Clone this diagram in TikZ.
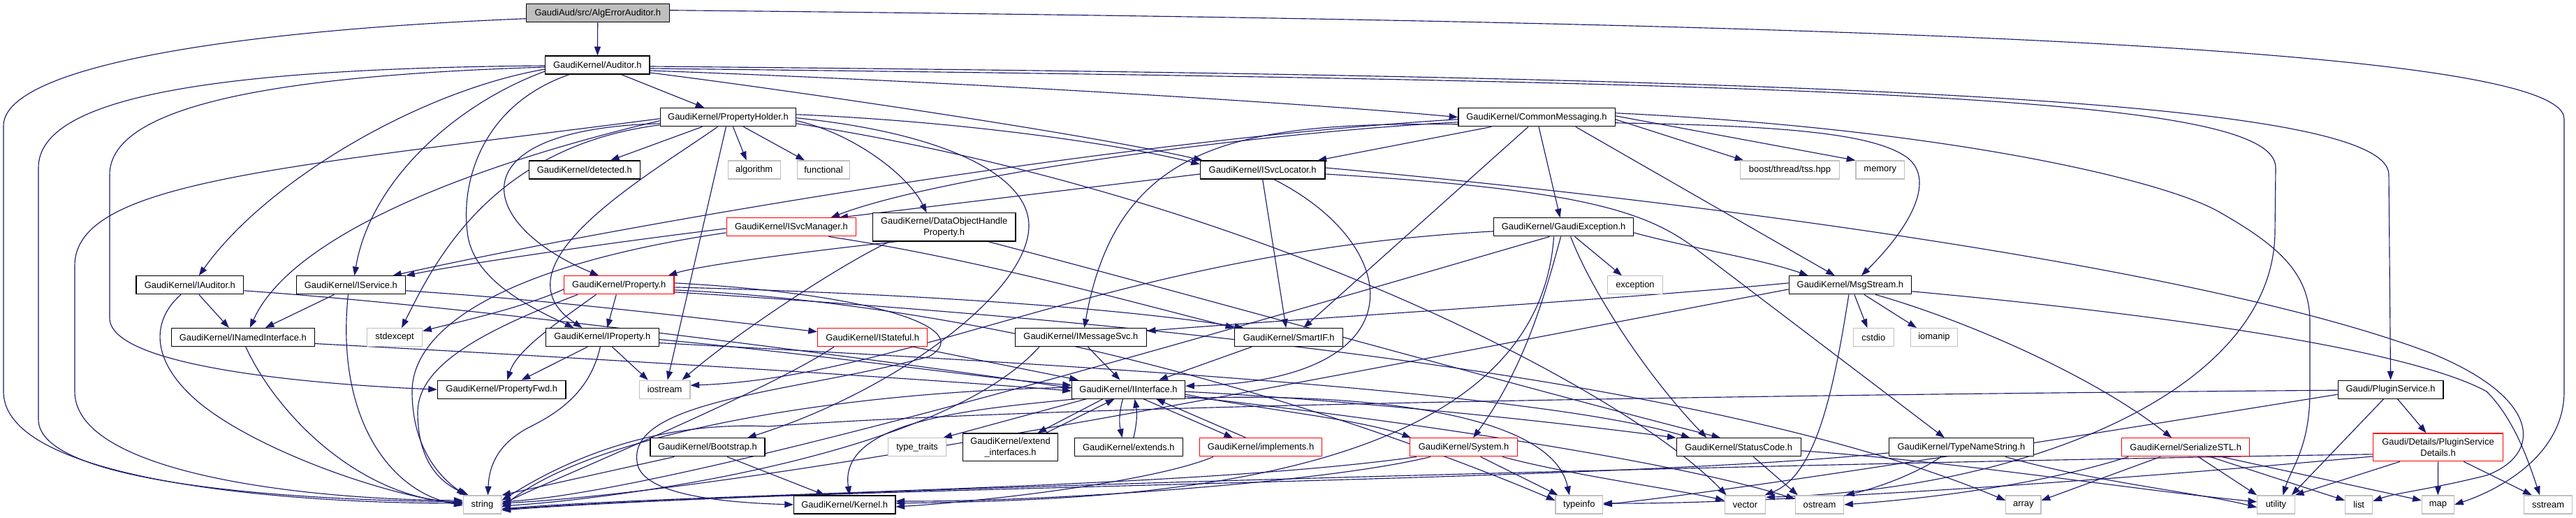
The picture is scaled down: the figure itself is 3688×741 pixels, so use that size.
\documentclass[tikz,border=0pt]{standalone}
\usepackage{fontspec}
\setmainfont{Liberation Sans}
\usetikzlibrary{arrows.meta,calc}
\definecolor{edgec}{HTML}{191970}
\definecolor{graybd}{HTML}{BFBFBF}
\definecolor{rootfill}{HTML}{BFBFBF}
\definecolor{redbd}{HTML}{FF0000}
\pgfdeclarelayer{bgl}
\pgfdeclarelayer{edl}
\pgfsetlayers{bgl,edl,main}
\tikzset{
 nbase/.style={rectangle, minimum height=19.5pt, inner sep=1pt, font=\fontsize{9.7}{12}\selectfont, align=center, line width=0.9pt, fill=white},
 kn/.style={nbase, draw=black},
 rn/.style={nbase, draw=redbd},
 gn/.style={nbase, draw=graybd},
 bw/.style={minimum width=#1*0.75pt},
 bh/.style={minimum height=#1*0.75pt},
 edg/.style={draw=edgec, line width=0.85pt, -{Triangle[length=9.5pt,width=6.8pt]}},
}
\begin{document}
\begin{tikzpicture}[x=0.75pt,y=-0.75pt]
\useasboundingbox (0,0) rectangle (3688,741);
\begin{pgfonlayer}{bgl}
\fill[white] (0,0) rectangle (3688,741);
\end{pgfonlayer}
% ---------- nodes ----------
\node[kn,fill=rootfill,bw=205] (root) at (855.8,18.7) {GaudiAud/src/AlgErrorAuditor.h};
\node[kn,bw=149.3] (aud) at (855.35,93) {GaudiKernel/Auditor.h};
\node[kn,bw=194.5] (ph) at (1042.45,167.75) {GaudiKernel/PropertyHolder.h};
\node[kn,bw=224.2] (cm) at (2200,167.75) {GaudiKernel/CommonMessaging.h};
\node[kn,bw=158.9] (det) at (836.85,243) {GaudiKernel/detected.h};
\node[gn,bw=75.1] (alg) at (1079.65,243) {algorithm};
\node[gn,bw=75.5] (fun) at (1179.05,243) {functional};
\node[kn,bw=178.5] (svl) at (1807.65,243) {GaudiKernel/ISvcLocator.h};
\node[gn,bw=141.6] (bst) at (2562.5,243) {boost/thread/tss.hpp};
\node[gn,bw=69.6] (mem) at (2691.8,243) {memory};
\node[rn,bw=185.6] (svm) at (1132.9,324.9) {GaudiKernel/ISvcManager.h};
\node[kn,bw=204.5,bh=40.2] (dohp) at (1351.65,324.9) {GaudiKernel/DataObjectHandle\\Property.h};
\node[kn,bw=200.1] (gex) at (2238.55,324.9) {GaudiKernel/GaudiException.h};
\node[kn,bw=153.9] (iaud) at (271.85,407.85) {GaudiKernel/IAuditor.h};
\node[kn,bw=156.2] (isvc) at (502.4,407.85) {GaudiKernel/IService.h};
\node[rn,bw=157.4] (prop) at (886.3,407.85) {GaudiKernel/Property.h};
\node[kn,bw=175.2] (msg) at (2648.9,407.85) {GaudiKernel/MsgStream.h};
\node[gn,bw=79.1] (exc) at (2340.95,407.85) {exception};
\node[kn,bw=205.2] (inam) at (347.8,482.55) {GaudiKernel/INamedInterface.h};
\node[gn,bw=79.1] (stdx) at (565.05,482.55) {stdexcept};
\node[kn,bw=161.7] (iprop) at (862.35,482.55) {GaudiKernel/IProperty.h};
\node[rn,bw=157.1] (istat) at (1249.15,482.55) {GaudiKernel/IStateful.h};
\node[kn,bw=187.8] (imsg) at (1547.4,482.55) {GaudiKernel/IMessageSvc.h};
\node[kn,bw=154.8] (sif) at (1845.2,482.55) {GaudiKernel/SmartIF.h};
\node[gn,bw=57.7] (cst) at (2682.35,482.55) {cstdio};
\node[gn,bw=67.2] (iom) at (2768.9,482.55) {iomanip};
\node[kn,bw=183.5] (pfwd) at (718.25,557.2) {GaudiKernel/PropertyFwd.h};
\node[gn,bw=72.4] (ios) at (951.7,557.2) {iostream};
\node[kn,bw=162.1] (iif) at (1615.55,557.2) {GaudiKernel/IInterface.h};
\node[kn,bw=150.9] (plg) at (3422.55,557.2) {Gaudi/PluginService.h};
\node[kn,bw=164] (boot) at (1013,639.85) {GaudiKernel/Bootstrap.h};
\node[gn,bw=83] (tt) at (1313.1,639.85) {type\_traits};
\node[kn,bw=136.5,bh=39.7] (ext) at (1446.55,639.85) {GaudiKernel/extend\\\_interfaces.h};
\node[kn,bw=154.6] (exts) at (1615.8,639.85) {GaudiKernel/extends.h};
\node[rn,bw=174.9] (impl) at (1805.05,639.85) {GaudiKernel/implements.h};
\node[rn,bw=153.8] (sys) at (2095.6,639.85) {GaudiKernel/System.h};
\node[kn,bw=178.1] (sc) at (2489.25,639.85) {GaudiKernel/StatusCode.h};
\node[kn,bw=206.8] (tns) at (2807.9,639.85) {GaudiKernel/TypeNameString.h};
\node[rn,bw=183] (ser) at (3129.2,639.85) {GaudiKernel/SerializeSTL.h};
\node[rn,bw=186.1,bh=39.7] (psd) at (3490.55,639.85) {Gaudi/Details/PluginService\\Details.h};
\node[gn,bw=54.5] (str) at (690.55,721.9) {string};
\node[kn,bw=145.3] (ker) at (1209.25,721.9) {GaudiKernel/Kernel.h};
\node[gn,bw=67.6] (tinf) at (2260.8,721.9) {typeinfo};
\node[gn,bw=58.5] (vec) at (2498.45,721.9) {vector};
\node[gn,bw=69.2] (ost) at (2605,721.9) {ostream};
\node[gn,bw=50.2] (arr) at (2896.8,721.9) {array};
\node[gn,bw=53.5] (utl) at (3258.45,721.9) {utility};
\node[gn,bw=39.1] (lst) at (3377.15,721.9) {list};
\node[gn,bw=46.1] (map) at (3490.35,721.9) {map};
\node[gn,bw=69.4] (sst) at (3648.1,721.9) {sstream};
% ---------- edges ----------
\begin{pgfonlayer}{edl}
% root
\draw[edg] (root) -- (aud);
\draw[edg] ($(root.west)+(0,8)$) .. controls (300,45) and (5,100) .. (5,180) -- (5,560) .. controls (5,690) and (420,720) .. ($(str.west)+(0,-2)$);
\draw[edg] ($(root.east)+(0,-4)$) .. controls (2500,30) and (3671,60) .. (3671,170) -- (3671,560) .. controls (3671,650) and (3580,700) .. (map.east);
% Auditor
\draw[edg] (aud) -- (ph);
\draw[edg] ($(aud.east)+(0,8)$) .. controls (1400,118) and (1900,150) .. (cm.west);
\draw[edg] ($(aud.east)+(0,11)$) .. controls (1100,125) and (1550,190) .. ($(svl.north west)+(4,0)$);
\draw[edg] ($(aud.east)+(0,2)$) .. controls (2600,110) and (3420,140) .. (3420,250) -- (plg.north);
\draw[edg] ($(aud.east)+(0,5)$) .. controls (2700,118) and (3258,140) .. (3258,240) -- (3257,330) .. controls (3257,560) and (2900,700) .. ($(vec.north east)+(0,3)$);
\draw[edg] ($(aud.west)+(0,6)$) .. controls (600,130) and (380,260) .. ($(iaud.north)+(13,0)$);
\draw[edg] ($(aud.west)+(0,9)$) .. controls (650,150) and (530,260) .. ($(isvc.north)+(5,0)$);
\draw[edg] ($(aud.west)+(0,3)$) .. controls (400,108) and (157,150) .. (157,250) -- (157,455) .. controls (157,525) and (450,550) .. (pfwd.west);
\draw[edg] ($(aud.west)+(0,1)$) .. controls (300,98) and (55,140) .. (55,240) -- (55,600) .. controls (55,690) and (400,715) .. ($(str.west)+(0,-4)$);
\draw[edg] ($(aud.south west)+(35,0)$) .. controls (690,150) and (660,260) .. (669,331) .. controls (675,400) and (760,440) .. ($(iprop.north)+(-41,0)$);
% PropertyHolder
\draw[edg] (ph) -- (det);
\draw[edg] ($(ph.south)+(7,0)$) -- ($(alg.north)+(-11,0)$);
\draw[edg] ($(ph.south)+(22,0)$) -- ($(fun.north)+(-27,0)$);
\draw[edg] ($(ph.south)+(-3,0)$) -- ($(ios.north)+(4,0)$);
\draw[edg] ($(ph.south)+(-15,0)$) .. controls (930,250) and (700,380) .. ($(iprop.north)+(-29,0)$);
\draw[edg] ($(ph.west)+(0,9)$) .. controls (650,185) and (680,320) .. ($(prop.north)+(-29,0)$);
\draw[edg] ($(ph.west)+(0,2)$) .. controls (400,240) and (107,260) .. (107,380) -- (107,560) .. controls (107,680) and (450,715) .. ($(str.west)+(0,-6)$);
\draw[edg] ($(ph.west)+(0,5)$) .. controls (700,230) and (420,330) .. ($(inam.north)+(10,0)$);
\draw[edg] ($(ph.west)+(0,11)$) .. controls (700,210) and (620,380) .. ($(stdx.north)+(10,0)$);
\draw[edg] ($(ph.east)+(0,5)$) .. controls (1220,190) and (1300,250) .. ($(dohp.north)+(-25,0)$);
\draw[edg] ($(ph.east)+(0,-4)$) .. controls (1400,175) and (1620,210) .. ($(svl.west)+(0,-8)$);
\draw[edg] ($(ph.east)+(0,9)$) .. controls (1800,280) and (2330,560) .. ($(vec.north west)+(3,0)$);
\draw[edg] ($(ph.east)+(0,1)$) .. controls (1350,190) and (1475,250) .. (1473,325) .. controls (1470,420) and (1280,560) .. ($(boot.north)+(57,0)$);
% CommonMessaging
\draw[edg] ($(cm.south west)+(48,0)$) -- ($(svl.north east)+(-11,0)$);
\draw[edg] ($(cm.west)+(0,3)$) .. controls (1600,200) and (900,320) .. ($(isvc.north east)+(-19,0)$);
\draw[edg] ($(cm.west)+(0,7)$) .. controls (1800,190) and (1350,250) .. ($(svm.north east)+(-37,0)$);
\draw[edg] ($(cm.south)+(-12,0)$) -- ($(sif.north east)+(-57,0)$);
\draw[edg] ($(cm.south)+(3,0)$) -- ($(gex.north)+(-5,0)$);
\draw[edg] ($(cm.west)+(0,10)$) .. controls (1780,175) and (1600,200) .. ($(imsg.north)+(5,0)$);
\draw[edg] ($(cm.south east)+(-57,0)$) -- ($(msg.north)+(-22,0)$);
\draw[edg] ($(cm.east)+(0,8)$) .. controls (2550,180) and (2680,190) .. (2730,225) .. controls (2770,255) and (2740,320) .. ($(msg.north)+(16,0)$);
\draw[edg] ($(cm.east)+(0,3)$) -- ($(bst.north west)+(5,0)$);
\draw[edg] ($(cm.east)+(0,-2)$) -- (mem.north west);
\draw[edg] ($(cm.east)+(0,-6)$) .. controls (2800,185) and (3100,260) .. (3175,302) .. controls (3260,350) and (3307,390) .. (3307,460) -- (3307,560) .. controls (3307,640) and (3280,670) .. ($(utl.north)+(10,0)$);
% ISvcLocator
\draw[edg] ($(svl.west)+(0,6)$) -- ($(svm.north east)+(-25,0)$);
\draw[edg] (svl.south) -- ($(sif.north)+(-4,0)$);
\draw[edg] ($(svl.south)+(16,0)$) .. controls (2010,350) and (2040,545) .. ($(iif.east)+(0,-5)$);
\draw[edg] ($(svl.east)+(0,6)$) .. controls (2250,270) and (2350,300) .. (2420,350) -- ($(tns.north)+(-24,0)$);
\draw[edg] ($(svl.east)+(0,-3)$) .. controls (2400,285) and (3150,380) .. (3480,505) .. controls (3640,570) and (3640,650) .. (3560,680) .. controls (3480,700) and (3430,705) .. ($(lst.east)+(0,-5)$);
% GaudiException
\draw[edg] ($(gex.south)+(16,0)$) -- ($(exc.north)+(-19,0)$);
\draw[edg] ($(gex.south)+(-4,0)$) .. controls (2210,430) and (2180,530) .. ($(sys.north east)+(-64,0)$);
\draw[edg] ($(gex.south)+(10,0)$) .. controls (2280,420) and (2360,540) .. ($(sc.north)+(-46,0)$);
\draw[edg] ($(gex.south)+(-14,0)$) .. controls (2200,700) and (1600,715) .. ($(ker.east)+(0,-2)$);
\draw[edg] ($(gex.south)+(-20,0)$) .. controls (1900,430) and (1000,700) .. ($(str.east)+(0,-4)$);
\draw[edg] ($(gex.west)+(0,6)$) .. controls (1600,360) and (1300,540) .. ($(ios.east)+(0,-6)$);
\draw[edg] ($(gex.east)+(0,8)$) .. controls (2420,355) and (2520,370) .. ($(msg.north west)+(28,0)$);
% MsgStream
\draw[edg] ($(msg.south)+(6,0)$) -- ($(cst.north)+(-9,0)$);
\draw[edg] ($(msg.south)+(20,0)$) -- ($(iom.north)+(-25,0)$);
\draw[edg] ($(msg.south)+(-2,0)$) .. controls (2625,560) and (2600,680) .. ($(vec.north east)+(-2,0)$);
\draw[edg] ($(msg.south east)+(-52,0)$) .. controls (2820,460) and (3000,540) .. ($(ser.north west)+(72,0)$);
\draw[edg] ($(msg.west)+(0,-3)$) .. controls (2300,430) and (1800,460) .. ($(imsg.east)+(0,-9)$);
\draw[edg] ($(msg.west)+(0,6)$) .. controls (2000,520) and (1100,700) .. ($(str.east)+(0,-2)$);
\draw[edg] ($(msg.east)+(0,9)$) .. controls (3100,450) and (3450,500) .. (3560,560) .. controls (3600,600) and (3620,660) .. ($(sst.north)+(-12,0)$);
% ISvcManager
\draw[edg] ($(svm.west)+(0,2)$) .. controls (850,350) and (650,380) .. (isvc.north east);
\draw[edg] ($(svm.west)+(0,8)$) .. controls (720,380) and (590,470) .. (590,560) .. controls (590,650) and (640,690) .. ($(str.north)+(-24,0)$);
\draw[edg] ($(svm.south east)+(-40,0)$) .. controls (1400,370) and (1650,440) .. (sif.north west);
% DataObjectHandleProperty
\draw[edg] ($(dohp.south west)+(35,0)$) .. controls (1150,360) and (1000,380) .. ($(prop.north east)+(-9,0)$);
\draw[edg] ($(dohp.south west)+(25,0)$) .. controls (1200,380) and (1050,480) .. ($(ios.north east)+(-12,0)$);
\draw[edg] ($(dohp.south east)+(-40,0)$) .. controls (1700,420) and (2200,560) .. ($(sc.north)+(-26,0)$);
% Property
\draw[edg] ($(prop.south)+(-4,0)$) -- ($(iprop.north)+(7,0)$);
\draw[edg] ($(prop.south)+(-33,0)$) .. controls (800,460) and (740,500) .. ($(pfwd.north)+(8,0)$);
\draw[edg] ($(prop.south west)+(20,0)$) .. controls (700,470) and (598,520) .. (598,590) .. controls (598,660) and (630,690) .. ($(str.north west)+(8,0)$);
\draw[edg] ($(prop.west)+(0,6)$) .. controls (750,440) and (650,462) .. ($(stdx.east)+(0,-9)$);
\draw[edg] ($(prop.east)+(0,3)$) .. controls (1300,420) and (1600,440) .. ($(sif.north west)+(13,0)$);
\draw[edg] ($(prop.east)+(0,7)$) .. controls (1500,440) and (2000,620) .. ($(tinf.west)+(0,-6)$);
\draw[edg] ($(prop.east)+(0,-3)$) .. controls (1250,420) and (1400,470) .. (1330,510) .. controls (1150,560) and (900,570) .. (912,660) .. controls (915,700) and (1000,718) .. (ker.west);
\draw[edg] ($(prop.east)+(0,10)$) .. controls (1800,470) and (2500,560) .. ($(arr.west)+(0,-6)$);
% IProperty
\draw[edg] ($(iprop.south)+(-21,0)$) -- ($(pfwd.north east)+(-64,0)$);
\draw[edg] ($(iprop.south)+(14,0)$) -- ($(ios.north)+(-24,0)$);
\draw[edg] ($(iprop.south)+(-3,0)$) .. controls (845,560) and (800,590) .. (760,610) .. controls (710,635) and (700,670) .. ($(str.north)+(8,0)$);
\draw[edg] ($(iprop.east)+(0,3)$) .. controls (1200,510) and (1400,540) .. ($(iif.west)+(0,-6)$);
\draw[edg] ($(iprop.east)+(0,8)$) .. controls (1500,520) and (2200,560) .. ($(sc.north west)+(20,0)$);
% IAuditor, IService, INamedInterface
\draw[edg] ($(iaud.south)+(13,0)$) -- ($(inam.north)+(-20,0)$);
\draw[edg] ($(iaud.south)+(-13,0)$) .. controls (215,460) and (215,520) .. (290,580) .. controls (380,650) and (560,710) .. ($(str.west)+(0,-1)$);
\draw[edg] ($(iaud.east)+(0,8)$) .. controls (700,440) and (1300,520) .. ($(iif.west)+(0,-2)$);
\draw[edg] ($(isvc.south)+(-24,0)$) -- ($(inam.north)+(32,0)$);
\draw[edg] ($(isvc.south)+(-4,0)$) .. controls (480,600) and (560,705) .. ($(str.west)+(0,1)$);
\draw[edg] ($(isvc.east)+(0,8)$) .. controls (800,430) and (1000,455) .. ($(istat.west)+(0,-8)$);
\draw[edg] ($(inam.east)+(0,9)$) .. controls (800,510) and (1300,540) .. ($(iif.west)+(0,2)$);
\draw[edg] ($(inam.south)+(4,0)$) .. controls (400,600) and (520,712) .. ($(str.west)+(0,-3)$);
% IStateful, IMessageSvc, SmartIF
\draw[edg] ($(istat.south east)+(-21,0)$) -- ($(iif.north west)+(10,0)$);
\draw[edg] ($(istat.south west)+(24,0)$) .. controls (1100,560) and (780,690) .. (str.east);
\draw[edg] ($(imsg.south)+(10,0)$) -- ($(iif.north)+(-12,0)$);
\draw[edg] ($(imsg.south west)+(35,0)$) .. controls (1350,650) and (900,712) .. ($(str.east)+(0,2)$);
\draw[edg] ($(sif.south west)+(25,0)$) -- ($(iif.north east)+(-38,0)$);
% IInterface
\draw[edg] ($(iif.south west)+(21,0)$) -- ($(tt.north east)+(-5,0)$);
\draw[edg] ($(iif.south west)+(45,0)$) -- ($(ext.north east)+(-30,0)$);
\draw[edg] ($(ext.north east)+(-18,0)$) -- ($(iif.south)+(-20,0)$);
\draw[edg] ($(iif.south)+(-8,0)$) .. controls (1602,590) and (1602,605) .. ($(exts.north)+(-9,0)$);
\draw[edg] ($(exts.north)+(7,0)$) .. controls (1628,605) and (1628,590) .. ($(iif.south)+(9,0)$);
\draw[edg] ($(iif.south east)+(-60,0)$) -- ($(impl.north west)+(48,0)$);
\draw[edg] ($(impl.north west)+(67,0)$) -- ($(iif.south east)+(-42,0)$);
\draw[edg] ($(iif.east)+(0,7)$) .. controls (1800,585) and (1950,600) .. ($(sys.north west)+(2,0)$);
\draw[edg] ($(iif.east)+(0,3)$) .. controls (1900,570) and (2200,600) .. (sc.north west);
\draw[edg] ($(iif.south east)+(-20,0)$) .. controls (1900,560) and (2220,580) .. ($(tinf.north)+(-14,0)$);
\draw[edg] ($(iif.east)+(0,10)$) .. controls (2000,600) and (2400,660) .. ($(ost.west)+(0,-8)$);
\draw[edg] ($(iif.south west)+(5,0)$) .. controls (1400,585) and (1200,600) .. ($(ker.north)+(7,0)$);
\draw[edg] ($(iif.west)+(0,-3)$) .. controls (1200,560) and (850,620) .. ($(str.east)+(0,4)$);
\draw[edg] ($(impl.south west)+(20,0)$) .. controls (1650,690) and (1400,718) .. ($(ker.east)+(0,3)$);
% System
\draw[edg] ($(sys.south)+(24,0)$) -- ($(tinf.north west)+(4,0)$);
\draw[edg] ($(sys.south west)+(30,0)$) .. controls (1900,690) and (1500,718) .. ($(ker.east)+(0,-5)$);
\draw[edg] ($(sys.south west)+(10,0)$) .. controls (1700,700) and (1000,705) .. ($(str.east)+(0,6)$);
\draw[edg] ($(sys.south east)+(-22,0)$) .. controls (2250,680) and (2400,700) .. ($(vec.west)+(0,-6)$);
% Bootstrap
\draw[edg] ($(boot.south west)+(35,0)$) -- (str.north east);
\draw[edg] ($(boot.south)+(28,0)$) -- ($(ker.north west)+(45,0)$);
% StatusCode, TypeNameString
\draw[edg] ($(sc.south)+(21,0)$) -- ($(ost.north west)+(4,0)$);
\draw[edg] ($(sc.east)+(0,5)$) .. controls (2800,660) and (3050,700) .. ($(utl.west)+(0,-4)$);
\draw[edg] ($(tns.south west)+(75,0)$) .. controls (2740,680) and (2680,700) .. ($(ost.north east)+(2,0)$);
\draw[edg] ($(tns.west)+(0,8)$) .. controls (2300,690) and (1200,695) .. ($(str.east)+(0,7)$);
\draw[edg] ($(tns.south east)+(-41,0)$) .. controls (3000,690) and (3150,705) .. ($(utl.west)+(0,4)$);
% SerializeSTL
\draw[edg] ($(ser.south)+(18,0)$) -- (utl.north west);
\draw[edg] ($(ser.south)+(35,0)$) -- ($(lst.west)+(0,-6)$);
\draw[edg] ($(ser.south east)+(-41,0)$) -- ($(map.west)+(0,-6)$);
\draw[edg] ($(ser.south west)+(56,0)$) -- ($(arr.east)+(0,-6)$);
\draw[edg] ($(ser.south west)+(10,0)$) .. controls (2900,700) and (2720,716) .. (ost.east);
% PluginService, Details
\draw[edg] ($(plg.south)+(10,0)$) -- ($(psd.north)+(-17,0)$);
\draw[edg] ($(plg.south)+(-10,0)$) -- ($(utl.north east)+(-5,0)$);
\draw[edg] ($(plg.west)+(0,1)$) .. controls (2500,565) and (1500,580) .. (1100,610) .. controls (900,600) and (760,690) .. ($(str.east)+(0,-6)$);
\draw[edg] ($(plg.west)+(0,7)$) .. controls (3000,620) and (2500,700) .. (tinf.east);
\draw[edg] (psd.south) -- (map.north);
\draw[edg] ($(psd.south east)+(-57,0)$) -- ($(sst.north west)+(12,0)$);
\draw[edg] ($(psd.south west)+(39,0)$) -- (utl.north east);
\draw[edg] ($(psd.west)+(0,10)$) .. controls (2700,660) and (1100,700) .. ($(str.east)+(0,8)$);
\draw[edg] ($(psd.west)+(0,13)$) .. controls (3000,690) and (2500,722) .. ($(tinf.east)+(0,-2)$);
\end{pgfonlayer}
\end{tikzpicture}
\end{document}
